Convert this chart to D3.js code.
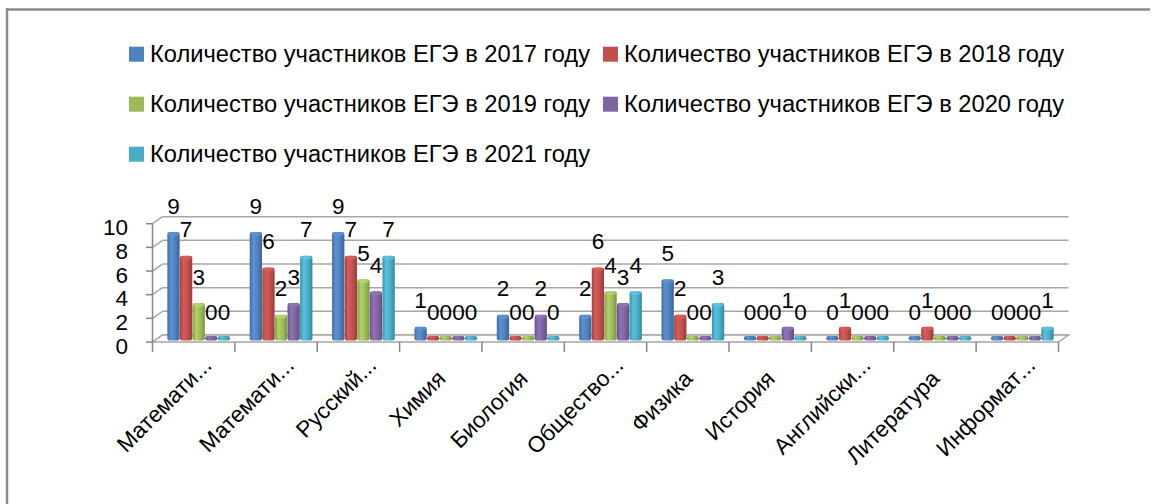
<!DOCTYPE html>
<html>
<head>
<meta charset="utf-8">
<script src="https://cdn.jsdelivr.net/npm/d3@7"></script>
<style>
  html, body { margin: 0; padding: 0; background: #fff; }
  svg { display: block; }
  text { font-family: 'Liberation Sans', Arial, sans-serif; fill: #000; }
</style>
</head>
<body>
<svg id="chart" width="1168" height="504"></svg>
<script>
// ---- data ----
const categories = ["Математи...", "Математи...", "Русский...", "Химия", "Биология", "Общество...", "Физика", "История", "Английски...", "Литература", "Информат..."];
const years = ["2017", "2018", "2019", "2020", "2021"];
const v2017 = [9, 9, 9, 1, 2, 2, 5, 0, 0, 0, 0];
const v2018 = [7, 6, 7, 0, 0, 6, 2, 0, 1, 1, 0];
const v2019 = [3, 2, 5, 0, 0, 4, 0, 0, 0, 0, 0];
const v2020 = [0, 3, 4, 0, 2, 3, 0, 1, 0, 0, 0];
const v2021 = [0, 7, 7, 0, 0, 4, 3, 0, 0, 0, 1];
const seriesNames = years.map(y => "Количество участников ЕГЭ в " + y + " году");
const yTicks = [0, 2, 4, 6, 8, 10];
const colors = ["#4F81BD", "#C0504D", "#9BBB59", "#8064A2", "#4BACC6"];

const seriesValues = [v2017, v2018, v2019, v2020, v2021];
const series = years.map((y, j) => ({ name: seriesNames[j], values: seriesValues[j], color: colors[j], key: y }));

const svg = d3.select("#chart");
const FS = 22.5;

// ---- frame ----
svg.append("line").attr("x1", 6).attr("x2", 1150).attr("y1", 9.5).attr("y2", 9.5)
  .attr("stroke", "#8c8c8c").attr("stroke-width", 2.5);
svg.append("line").attr("x1", 7).attr("x2", 7).attr("y1", 8.5).attr("y2", 504)
  .attr("stroke", "#8c8c8c").attr("stroke-width", 2.5);

// ---- scales ----
const idx = categories.map((c, i) => i);
const x = d3.scaleBand().domain(idx).range([152.5, 1058.5]);
const DX = 10, DY = 7;
const yBack = d3.scaleLinear().domain([0, 10]).range([335, 216.7]);
const yFront = v => yBack(v) + DY;
const yBar = d3.scaleLinear().domain([0, 10]).range([338.5, 220.2]);
const barSlot = d3.scaleBand().domain(years).range([0, 63]);
const groupOffset = 14.7;
const barW = 12.3;
const barBase = 340.5;

// ---- defs: gradients ----
const defs = svg.append("defs");
series.forEach(s => {
  const c = d3.color(s.color);
  const g = defs.append("linearGradient").attr("id", "g" + s.key)
    .attr("x1", "0%").attr("x2", "100%").attr("y1", "0%").attr("y2", "0%");
  g.append("stop").attr("offset", "0%").attr("stop-color", c.darker(0.5));
  g.append("stop").attr("offset", "30%").attr("stop-color", c.brighter(0.35));
  g.append("stop").attr("offset", "65%").attr("stop-color", c);
  g.append("stop").attr("offset", "100%").attr("stop-color", c.darker(0.7));
});

// ---- back wall gridlines ----
const grid = svg.append("g");
grid.selectAll("line.gy").data(yTicks).join("line")
  .attr("x1", 152.5 + DX).attr("x2", 1058.5 + DX)
  .attr("y1", d => yBack(d)).attr("y2", d => yBack(d))
  .attr("stroke", "#a6a6a6").attr("stroke-width", 1.5);
// side wall diagonals
grid.selectAll("line.gd").data(yTicks).join("line")
  .attr("x1", 152.5).attr("x2", 152.5 + DX)
  .attr("y1", d => yFront(d)).attr("y2", d => yBack(d))
  .attr("stroke", "#a6a6a6").attr("stroke-width", 1.5);
// floor
const fx0 = x.range()[0], fx1 = x.range()[1];
grid.append("path")
  .attr("d", `M${fx0},${yFront(0)} L${fx1},${yFront(0)} L${fx1 + DX},${yBack(0)} L${fx0 + DX},${yBack(0)} Z`)
  .attr("fill", "#fbfbfb").attr("stroke", "#a6a6a6").attr("stroke-width", 1.5);

// ---- bars ----
const bars = [];
series.forEach(s => s.values.forEach((v, i) => bars.push({ s, i, v })));
const barG = svg.append("g");
barG.selectAll("rect.bar").data(bars).join("rect")
  .attr("x", d => x(d.i) + groupOffset + barSlot(d.s.key) + (barSlot.bandwidth() - barW) / 2)
  .attr("width", barW)
  .attr("y", d => d.v === 0 ? yBar(0) - 2.5 : yBar(d.v))
  .attr("height", d => barBase - (d.v === 0 ? yBar(0) - 2.5 : yBar(d.v)))
  .attr("rx", 2.5).attr("ry", 2)
  .attr("fill", d => `url(#g${d.s.key})`);
// top caps
barG.selectAll("ellipse.cap").data(bars.filter(d => d.v > 0)).join("ellipse")
  .attr("cx", d => x(d.i) + groupOffset + barSlot(d.s.key) + barSlot.bandwidth() / 2)
  .attr("cy", d => yBar(d.v) + 2)
  .attr("rx", barW / 2 - 0.5).attr("ry", 2)
  .attr("fill", d => d3.color(d.s.color).brighter(0.4))
  .attr("opacity", 0.8);

// ---- front axis ----
const ax = svg.append("g");
ax.append("line").attr("x1", 152.5).attr("x2", 152.5)
  .attr("y1", yFront(0)).attr("y2", yFront(10))
  .attr("stroke", "#868686").attr("stroke-width", 1.5);
ax.selectAll("line.yt").data(yTicks).join("line")
  .attr("x1", 146).attr("x2", 152.5)
  .attr("y1", d => yFront(d)).attr("y2", d => yFront(d))
  .attr("stroke", "#868686").attr("stroke-width", 1.5);
ax.selectAll("text.yl").data(yTicks).join("text")
  .attr("x", 128).attr("y", d => yFront(d) + 4)
  .attr("text-anchor", "end").attr("dominant-baseline", "central")
  .attr("font-size", FS).text(d => d);
// category ticks
const bounds = d3.range(categories.length + 1).map(k => fx0 + k * x.bandwidth());
ax.selectAll("line.xt").data(bounds).join("line")
  .attr("x1", d => d).attr("x2", d => d)
  .attr("y1", yFront(0)).attr("y2", yFront(0) + 10)
  .attr("stroke", "#868686").attr("stroke-width", 1.5);

// category labels (rotated)
const lab = svg.append("g");
categories.forEach((c, i) => {
  const cx = x(i) + x.bandwidth() / 2;
  const ex = cx + 6, ey = 380;
  const trunc = c.endsWith("...");
  const main = trunc ? c.slice(0, -3) : c;
  lab.append("text").attr("x", ex).attr("y", ey)
    .attr("transform", `rotate(-45 ${ex} ${ey})`)
    .attr("text-anchor", "end").attr("font-size", FS).text(main);
  if (trunc) {
    lab.append("text").attr("x", ex).attr("y", ey)
      .attr("transform", `rotate(-45 ${ex} ${ey})`)
      .attr("text-anchor", "start").attr("font-size", FS).text("...");
  }
});

// ---- data labels ----
svg.append("g").selectAll("text.dl").data(bars).join("text")
  .attr("x", d => x(d.i) + groupOffset + barSlot(d.s.key) + barSlot.bandwidth() / 2)
  .attr("y", d => yBar(d.v) - 26)
  .attr("text-anchor", "middle").attr("dominant-baseline", "central")
  .attr("font-size", FS).text(d => d.v);

// ---- legend ----
const legPos = [
  { sx: 129, ty: 61.7 }, { sx: 603, ty: 61.7 },
  { sx: 129, ty: 111.7 }, { sx: 603, ty: 111.7 },
  { sx: 129, ty: 161.7 }
];
const leg = svg.append("g");
series.forEach((s, j) => {
  const p = legPos[j];
  leg.append("rect").attr("x", p.sx).attr("y", p.ty - 15).attr("width", 15).attr("height", 15)
    .attr("fill", s.color);
  leg.append("text").attr("x", p.sx + 21).attr("y", p.ty)
    .attr("font-size", 23).attr("textLength", 440).attr("lengthAdjust", "spacingAndGlyphs")
    .text(s.name);
});
</script>
</body>
</html>
